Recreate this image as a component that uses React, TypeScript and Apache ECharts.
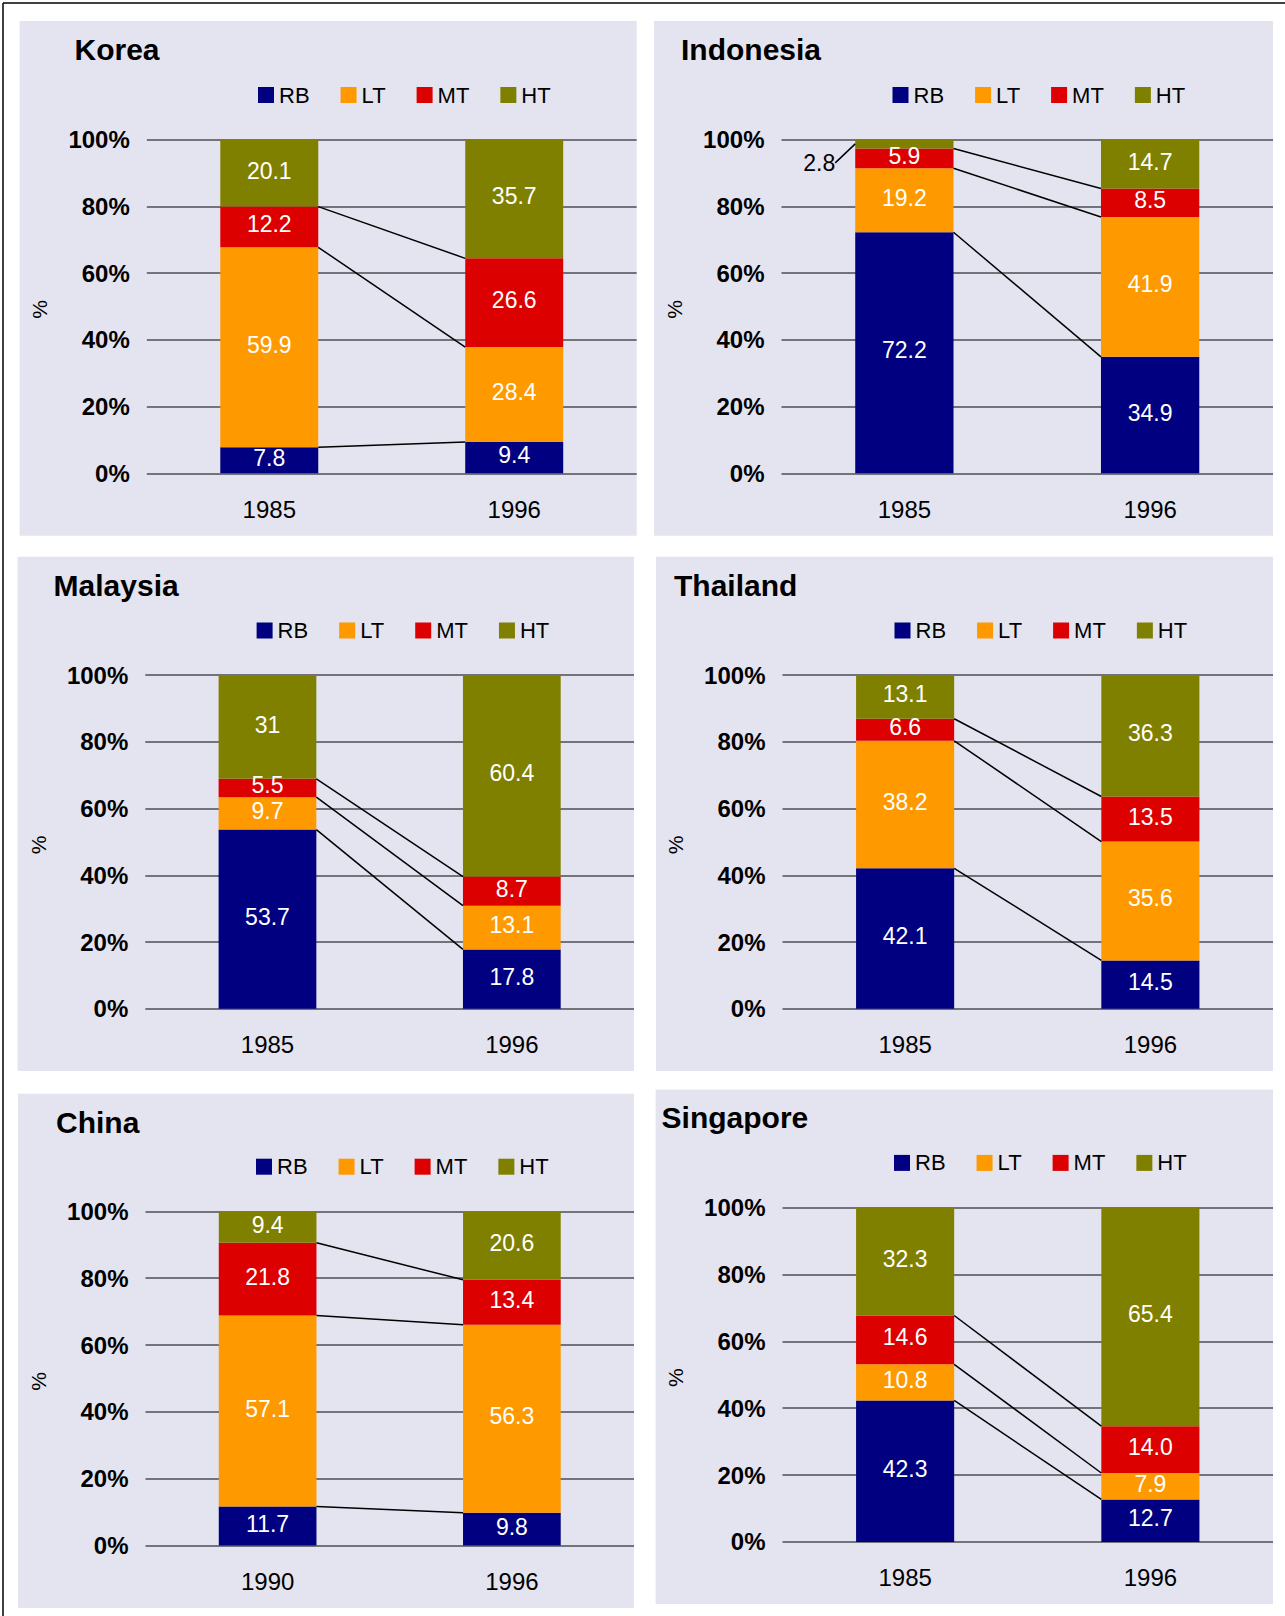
import React, { useEffect, useRef } from "react";
import * as echarts from "echarts";

// Export structure by technology class, two benchmark years per economy (%)
const SEGMENTS = ["RB", "LT", "MT", "HT"];
const SEGMENT_COLORS = ["#000080", "#ff9900", "#dd0000", "#808000"];

const COUNTRIES = ["Korea", "Indonesia", "Malaysia", "Thailand", "China", "Singapore"];
const YEARS = [
  ["1985", "1996"],
  ["1985", "1996"],
  ["1985", "1996"],
  ["1985", "1996"],
  ["1990", "1996"],
  ["1985", "1996"],
];

// [RB, LT, MT, HT], each as [first year, 1996]
const korea = [[7.8, 9.4], [59.9, 28.4], [12.2, 26.6], [20.1, 35.7]];
const indonesia = [[72.2, 34.9], [19.2, 41.9], [5.9, 8.5], [2.8, 14.7]];
const malaysia = [[53.7, 17.8], [9.7, 13.1], [5.5, 8.7], [31, 60.4]];
const thailand = [[42.1, 14.5], [38.2, 35.6], [6.6, 13.5], [13.1, 36.3]];
const china = [[11.7, 9.8], [57.1, 56.3], [21.8, 13.4], [9.4, 20.6]];
const singapore = [[42.3, 12.7], [10.8, 7.9], [14.6, 14.0], [32.3, 65.4]];
const VALUES = [korea, indonesia, malaysia, thailand, china, singapore];

// whether a panel prints its labels with one fixed decimal
const ONE_DECIMAL = [true, true, false, true, true, true];

const Y_TICKS = [0, 20, 40, 60, 80, 100];

// Panel geometry (page pixels)
const PANELS = [
  { x: 19.6, y: 21, r: 636.7, b: 535.7, gridLeft: 146.8, gridTop: 139.5, gridBottom: 473.3, titleX: 74.5, titleTop: 34.5, legendX: 258, legendTop: 84 },
  { x: 654, y: 21, r: 1273, b: 535.7, gridLeft: 781.5, gridTop: 139.5, gridBottom: 473.3, titleX: 681, titleTop: 34.5, legendX: 892.5, legendTop: 84 },
  { x: 17.5, y: 556.7, r: 634, b: 1071, gridLeft: 145.3, gridTop: 675, gridBottom: 1008.8, titleX: 53.6, titleTop: 570.2, legendX: 256.6, legendTop: 619.5 },
  { x: 656, y: 556.7, r: 1273, b: 1071, gridLeft: 782.5, gridTop: 675, gridBottom: 1008.8, titleX: 674, titleTop: 570.2, legendX: 894.5, legendTop: 619.5 },
  { x: 18, y: 1093.7, r: 634, b: 1608, gridLeft: 145.5, gridTop: 1211.3, gridBottom: 1545.6, titleX: 56, titleTop: 1107.7, legendX: 256, legendTop: 1155.7 },
  { x: 655.6, y: 1089.6, r: 1273, b: 1604, gridLeft: 782.5, gridTop: 1207.5, gridBottom: 1541.9, titleX: 661.6, titleTop: 1102.6, legendX: 894, legendTop: 1151.9 },
];

// Segment labels drawn outside their bar with a leader line
const CALLOUTS = [{ panel: 1, segment: 3, category: 0, dx: -20, dy: 19 }];

const FONT = "'Liberation Sans', Arial, Helvetica, sans-serif";
const PANEL_BG = "#e4e4f0";
const BAR_SHARE = 0.4;

function formatValue(panel: number, v: number): string {
  return ONE_DECIMAL[panel] ? v.toFixed(1) : String(v);
}

function cumulative(values: number[][], cat: number): number[] {
  const out: number[] = [];
  let s = 0;
  for (const seg of values) {
    s += seg[cat];
    out.push(Math.round(s * 100) / 100);
  }
  return out;
}

function buildOption() {
  const grid: any[] = [];
  const xAxis: any[] = [];
  const yAxis: any[] = [];
  const series: any[] = [];
  const title: any[] = [];
  const legend: any[] = [];
  const graphic: any[] = [];

  PANELS.forEach((p, i) => {
    graphic.push({
      type: "rect",
      z: -100,
      shape: { x: p.x, y: p.y, width: p.r - p.x, height: p.b - p.y },
      style: { fill: PANEL_BG },
      silent: true,
    });
    graphic.push({
      type: "text",
      z: 10,
      x: p.gridLeft - 107,
      y: (p.gridTop + p.gridBottom) / 2 + 3,
      rotation: Math.PI / 2,
      style: {
        text: "%",
        fontSize: 21,
        fontFamily: FONT,
        fill: "#000",
        align: "center",
        verticalAlign: "middle",
        textAlign: "center",
        textVerticalAlign: "middle",
      },
    });

    grid.push({
      left: p.gridLeft,
      top: p.gridTop,
      width: p.r - p.gridLeft,
      height: p.gridBottom - p.gridTop,
      containLabel: false,
    });
    xAxis.push({
      type: "category",
      gridIndex: i,
      data: YEARS[i],
      axisLine: { show: false },
      axisTick: { show: false },
      axisLabel: { margin: 24, fontSize: 24, color: "#000", fontFamily: FONT },
    });
    yAxis.push({
      type: "value",
      gridIndex: i,
      min: Y_TICKS[0],
      max: Y_TICKS[Y_TICKS.length - 1],
      interval: Y_TICKS[1] - Y_TICKS[0],
      axisLine: { show: false },
      axisTick: { show: false },
      axisLabel: {
        formatter: "{value}%",
        margin: 17,
        fontSize: 24,
        fontWeight: "bold",
        color: "#000",
        fontFamily: FONT,
      },
      splitLine: { lineStyle: { color: "#4e4e56", width: 1.5 } },
    });
    title.push({
      text: COUNTRIES[i],
      left: p.titleX,
      top: p.titleTop,
      padding: 0,
      textStyle: { fontSize: 30, fontWeight: "bold", color: "#000", fontFamily: FONT },
    });
    legend.push({
      left: p.legendX,
      top: p.legendTop,
      padding: 0,
      itemWidth: 16,
      itemHeight: 16,
      itemGap: 31,
      icon: "rect",
      selectedMode: false,
      data: SEGMENTS,
      textStyle: { fontSize: 22, color: "#000", fontFamily: FONT },
    });

    const values = VALUES[i];
    SEGMENTS.forEach((name, s) => {
      series.push({
        type: "bar",
        name,
        stack: "panel" + i,
        xAxisIndex: i,
        yAxisIndex: i,
        barWidth: BAR_SHARE * 100 + "%",
        itemStyle: { color: SEGMENT_COLORS[s] },
        label: {
          show: true,
          position: "inside",
          offset: [0, -2.5],
          color: "#fff",
          fontSize: 23,
          fontFamily: FONT,
          formatter: (prm: any) => formatValue(i, prm.value),
        },
        data: values[s].map((v, c) => {
          const co = CALLOUTS.find((k) => k.panel === i && k.segment === s && k.category === c);
          if (!co) return v;
          return {
            value: v,
            label: { position: "left", distance: -co.dx, offset: [0, co.dy], color: "#000" },
          };
        }),
      });
    });

    // connectors between matching cumulative boundaries of the two bars
    const c0 = cumulative(values, 0);
    const c1 = cumulative(values, 1);
    const links = [0, 1, 2].map((k) => [0, c0[k], c1[k]]);
    series.push({
      type: "custom",
      name: "links" + i,
      xAxisIndex: i,
      yAxisIndex: i,
      z: 5,
      encode: { x: 0, y: [1, 2] },
      data: links,
      renderItem: (params: any, api: any) => {
        const a = api.coord([0, api.value(1)]);
        const b = api.coord([1, api.value(2)]);
        const half = (api.size([1, 0])[0] * BAR_SHARE) / 2;
        return {
          type: "line",
          shape: { x1: a[0] + half, y1: a[1], x2: b[0] - half, y2: b[1] },
          style: { stroke: "#000", lineWidth: 1.5 },
        };
      },
    });

    // leader lines for labels placed outside the bar
    const callouts = CALLOUTS.filter((k) => k.panel === i).map((k) => {
      const cum = cumulative(values, k.category);
      const start = k.segment === 0 ? 0 : cum[k.segment - 1];
      const mid = start + values[k.segment][k.category] / 2;
      return [k.category, mid, k.dx, k.dy];
    });
    if (callouts.length) {
      series.push({
        type: "custom",
        name: "callouts" + i,
        xAxisIndex: i,
        yAxisIndex: i,
        z: 5,
        encode: { x: 0, y: 1 },
        data: callouts,
        renderItem: (params: any, api: any) => {
          const pt = api.coord([api.value(0), api.value(1)]);
          const half = (api.size([1, 0])[0] * BAR_SHARE) / 2;
          const x0 = pt[0] - half;
          return {
            type: "line",
            shape: { x1: x0, y1: pt[1], x2: x0 + api.value(2), y2: pt[1] + api.value(3) },
            style: { stroke: "#000", lineWidth: 1.5 },
          };
        },
      });
    }
  });

  // frame of the figure
  graphic.push({
    type: "line",
    z: 10,
    shape: { x1: 3, y1: 3, x2: 1285, y2: 3 },
    style: { stroke: "#000", lineWidth: 1.5 },
  });
  graphic.push({
    type: "line",
    z: 10,
    shape: { x1: 3, y1: 3, x2: 3, y2: 1616 },
    style: { stroke: "#000", lineWidth: 1.5 },
  });

  return {
    animation: false,
    backgroundColor: "#ffffff",
    textStyle: { fontFamily: FONT },
    title,
    legend,
    grid,
    xAxis,
    yAxis,
    series,
    graphic,
  };
}

export default function App() {
  const ref = useRef<HTMLDivElement>(null);
  useEffect(() => {
    if (!ref.current) return;
    const chart = echarts.init(ref.current, undefined, { renderer: "svg" });
    chart.setOption(buildOption());
    return () => chart.dispose();
  }, []);
  return (
    <div
      ref={ref}
      style={{ position: "absolute", left: 0, top: 0, width: 1285, height: 1616 }}
    />
  );
}
